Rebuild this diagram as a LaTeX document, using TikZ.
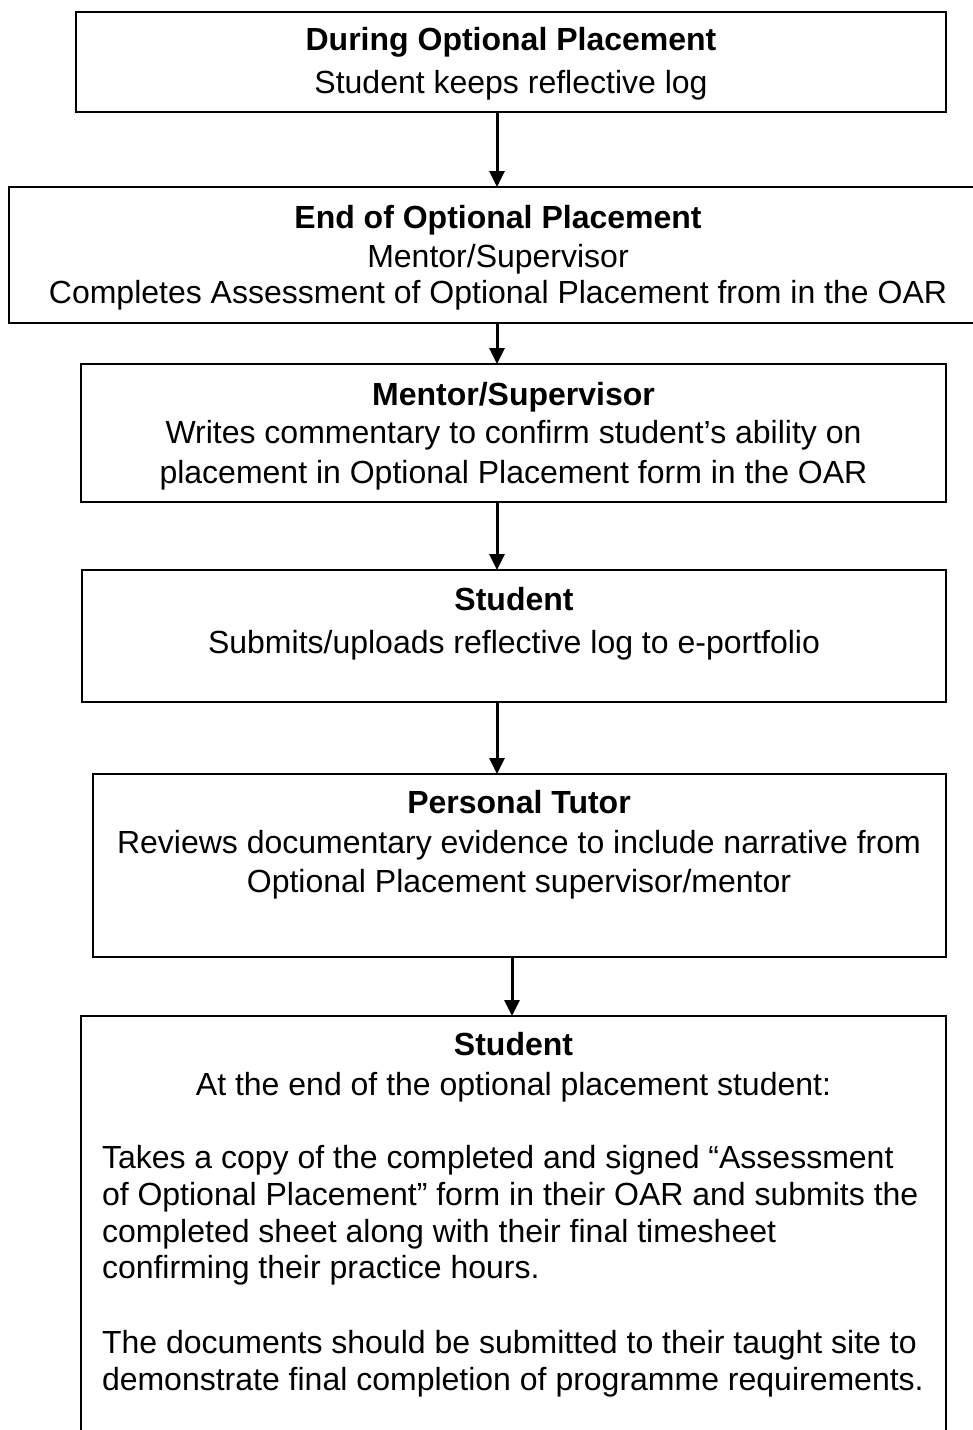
\documentclass[tikz,border=0pt]{standalone}
\usepackage{fontspec}
\setmainfont{Liberation Sans}
\usetikzlibrary{arrows.meta}
\begin{document}
\begin{tikzpicture}[x=1pt,y=-1pt,
  box/.style={draw=black, line width=2pt, inner sep=0pt, outer sep=0pt, rectangle},
  txt/.style={anchor=base, inner sep=0pt, outer sep=0pt, font=\fontsize{32}{38}\selectfont},
  hd/.style={anchor=base, inner sep=0pt, outer sep=0pt, font=\fontsize{32}{38}\selectfont\bfseries},
  ltxt/.style={txt, anchor=base west},
  arr/.style={draw=black, line width=3pt, -{Triangle[length=16pt,width=15pt]}}]
\useasboundingbox (0,0) rectangle (973,1430);
\fill[white] (0,0) rectangle (973,1430);
\clip (0,0) rectangle (973,1430);

% boxes
\node[box, minimum width=870pt, minimum height=100pt] (b1) at (511,62) {};
\node[box, minimum width=978pt, minimum height=136pt] (b2) at (498,255) {};
\node[box, minimum width=865pt, minimum height=138pt] (b3) at (513.5,433) {};
\node[box, minimum width=864pt, minimum height=132pt] (b4) at (514,636) {};
\node[box, minimum width=853pt, minimum height=183pt] (b5) at (519.5,865.5) {};
\node[box, minimum width=865pt, minimum height=484pt] (b6) at (513.5,1258) {};

% texts
\node[hd]  (t1a) at (511,50) {During Optional Placement};
\node[txt] (t1b) at (511,93) {Student keeps reflective log};

\node[hd]  (t2a) at (498,228) {End of Optional Placement};
\node[txt] (t2b) at (498,267) {Mentor/Supervisor};
\node[txt] (t2c) at (498,303) {Completes Assessment of Optional Placement from in the OAR};

\node[hd]  (t3a) at (513.5,405) {Mentor/Supervisor};
\node[txt] (t3b) at (513.5,443) {Writes commentary to confirm student’s ability on};
\node[txt] (t3c) at (513.5,483) {placement in Optional Placement form in the OAR};

\node[hd]  (t4a) at (514,610) {Student};
\node[txt] (t4b) at (514,653) {Submits/uploads reflective log to e-portfolio};

\node[hd]  (t5a) at (519,813) {Personal Tutor};
\node[txt] (t5b) at (519,853) {Reviews documentary evidence to include narrative from};
\node[txt] (t5c) at (519,892) {Optional Placement supervisor/mentor};

\node[hd]  (t6a) at (513.5,1055) {Student};
\node[txt] (t6b) at (513.5,1095) {At the end of the optional placement student:};
\node[ltxt] (t6c) at (102,1168) {Takes a copy of the completed and signed “Assessment};
\node[ltxt] (t6d) at (102,1205) {of Optional Placement” form in their OAR and submits the};
\node[ltxt] (t6e) at (102,1242) {completed sheet along with their final timesheet};
\node[ltxt] (t6f) at (102,1278) {confirming their practice hours.};
\node[ltxt] (t6g) at (102,1353) {The documents should be submitted to their taught site to};
\node[ltxt] (t6h) at (102,1390) {demonstrate final completion of programme requirements.};

% connectors
\coordinate (ax) at (497,0);
\coordinate (bx) at (512,0);
\draw[arr] (b1.south -| ax) -- (b2.north -| ax);
\draw[arr] (b2.south -| ax) -- (b3.north -| ax);
\draw[arr] (b3.south -| ax) -- (b4.north -| ax);
\draw[arr] (b4.south -| ax) -- (b5.north -| ax);
\draw[arr] (b5.south -| bx) -- (b6.north -| bx);
\end{tikzpicture}
\end{document}
